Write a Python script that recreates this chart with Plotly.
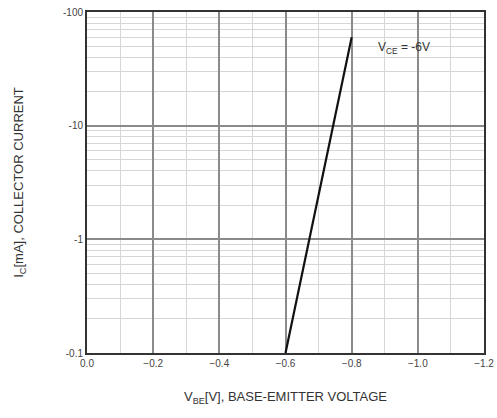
import numpy as np
import plotly.graph_objects as go

# Base-emitter on voltage curve
vbe = [-0.6, -0.672, -0.744, -0.8]
ic_ma = [-0.1, -1.0, -10.0, -60.0]

x_ticks = [0.0, -0.2, -0.4, -0.6, -0.8, -1.0, -1.2]
x_minor = [-0.1, -0.3, -0.5, -0.7, -0.9, -1.1]
y_ticks = [0.1, 1, 10, 100]
y_tick_text = ["-0.1", "-1", "-10", "-100"]
y_minor = [m * d for d in (0.1, 1, 10) for m in range(2, 10)]

fig = go.Figure()
fig.add_trace(go.Scatter(
    x=vbe,
    y=np.abs(ic_ma),  # log axis needs magnitudes, labels carry the sign
    mode="lines",
    line=dict(color="#111111", width=2.2),
    showlegend=False,
))

fig.add_annotation(
    x=0.87, y=0.925, xref="paper", yref="paper",
    text="V<sub>CE</sub> = -6V", showarrow=False,
    font=dict(family="Liberation Sans, Arial", size=12, color="#333333"),
)

tick_font = dict(family="Liberation Sans, Arial", size=10, color="#444444")
title_font = dict(family="Liberation Sans, Arial", size=13, color="#333333")

fig.update_xaxes(
    range=[0, -1.2],
    tickvals=x_ticks,
    tickformat=".1f",
    showgrid=True, gridcolor="#8a8a8a", gridwidth=1.5,
    minor=dict(tickvals=x_minor, showgrid=True, gridcolor="#d6d6d6", gridwidth=1),
    showline=True, mirror=True, linecolor="#333333", linewidth=2,
    ticks="", zeroline=False, automargin=False, ticklabeloverflow="allow",
    tickfont=tick_font,
    title=dict(text="V<sub>BE</sub>[V], BASE-EMITTER VOLTAGE", standoff=24,
               font=title_font),
)
fig.update_yaxes(
    type="log",
    range=[-1, 2],
    tickvals=y_ticks,
    ticktext=y_tick_text,
    showgrid=True, gridcolor="#8a8a8a", gridwidth=1.5,
    minor=dict(tickvals=y_minor, showgrid=True, gridcolor="#d6d6d6", gridwidth=1),
    showline=True, mirror=True, linecolor="#333333", linewidth=2,
    ticks="", zeroline=False, automargin=False, ticklabeloverflow="allow",
    tickfont=tick_font,
    title=dict(text="I<sub>C</sub>[mA], COLLECTOR CURRENT", standoff=36,
               font=title_font),
)

fig.update_layout(
    width=497, height=418,
    margin=dict(l=87, r=13, t=12, b=65),
    paper_bgcolor="white", plot_bgcolor="white",
)

# drop the browser's default body margin so the figure fills the window
fig.write_html(
    "out.html",
    config={"displayModeBar": False},
    post_script="document.body.style.margin='0';document.body.style.overflow='hidden';",
)
